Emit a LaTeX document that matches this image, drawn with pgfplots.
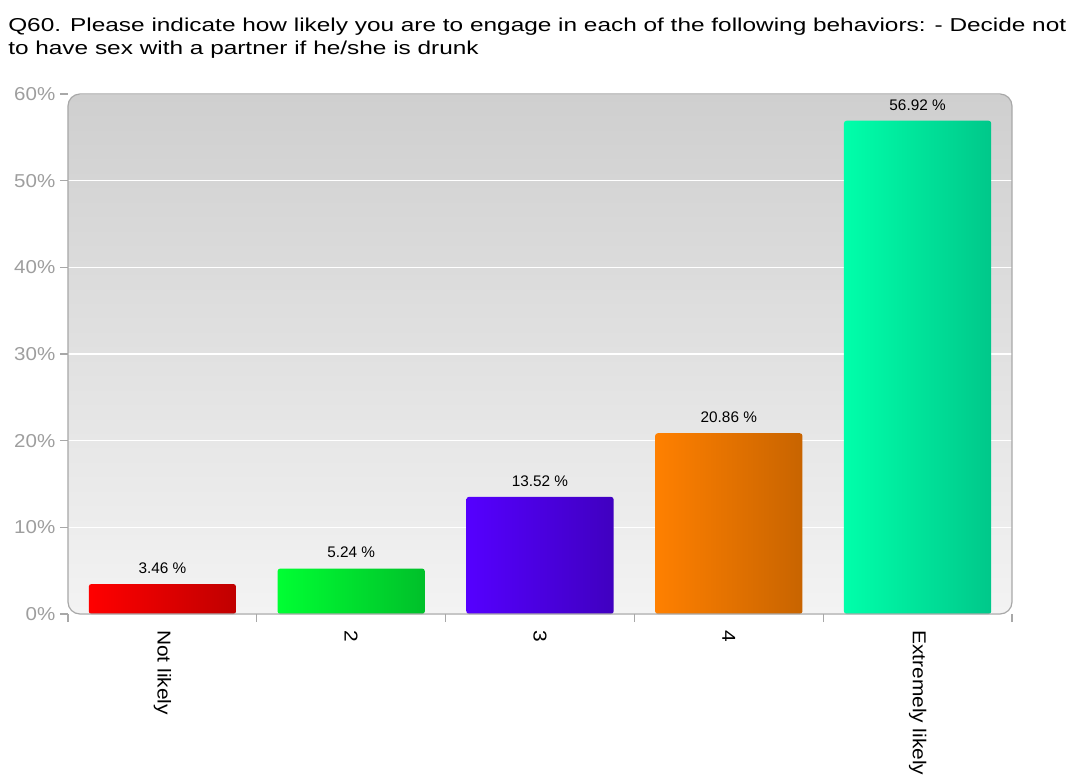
\documentclass[border=0pt]{standalone}
\usepackage{fontspec}
\setmainfont{Liberation Sans}
\usepackage{graphicx}
\usepackage{pgfplots}
\pgfplotsset{compat=1.18}
\definecolor{redL}{HTML}{FF0000}\definecolor{redR}{HTML}{C00000}
\definecolor{grnL}{HTML}{00FF33}\definecolor{grnR}{HTML}{00C02A}
\definecolor{purL}{HTML}{5500FF}\definecolor{purR}{HTML}{4000C0}
\definecolor{orgL}{HTML}{FF8000}\definecolor{orgR}{HTML}{C86400}
\definecolor{tealL}{HTML}{00FFAA}\definecolor{tealR}{HTML}{00C88A}
\definecolor{bgTop}{HTML}{CFCFCF}\definecolor{bgBot}{HTML}{F3F3F3}
\definecolor{frame}{HTML}{A8A8A8}\definecolor{ticklab}{HTML}{9E9E9E}
\newcommand{\wx}[1]{\scalebox{1.12}[1]{#1}}
\newcommand{\wy}[1]{\scalebox{1.1}[1]{#1}}
\begin{document}
\begin{tikzpicture}
\begin{axis}[
  name=ax, at={(0,0)}, anchor=south west,
  scale only axis, width=708pt, height=390pt,
  xmin=0.5, xmax=5.5, ymin=0, ymax=60,
  axis background/.style={top color=bgTop, bottom color=bgBot, draw=none, rounded corners=9pt},
  axis line style={draw=none},
  ymajorgrids, grid style={white, line width=1.1pt},
  ytick={0,10,...,60},
  yticklabels={\wy{0\%},\wy{10\%},\wy{20\%},\wy{30\%},\wy{40\%},\wy{50\%},\wy{60\%}},
  yticklabel style={font=\fontsize{14}{16}\selectfont, text=ticklab},
  xtick={0.5,1.5,...,5.5}, xticklabels={},
  xtick pos=bottom, ytick pos=left,
  tick align=outside, major tick length=6pt,
  tick style={frame, line width=0.8pt},
  extra x ticks={1,2,3,4,5},
  extra x tick labels={\wx{Not likely},\wx{2},\wx{3},\wx{4},\wx{Extremely likely}},
  extra x tick style={major tick length=0pt, xmajorgrids=false,
     tick label style={rotate=-90, anchor=west, inner sep=0pt, font=\fontsize{14}{16}\selectfont}},
  xticklabel shift=12pt,
  ybar, bar width=0.78, bar shift=0pt,
  nodes near coords={\pgfmathprintnumber[fixed,fixed zerofill,precision=2,assume math mode=true]{\pgfplotspointmeta} \%},
  nodes near coords style={font=\fontsize{11.5}{13}\selectfont, text=black, anchor=base, yshift=8pt},
  after end axis/.code={\draw[frame, line width=0.9pt, rounded corners=9pt] (rel axis cs:0,0) rectangle (rel axis cs:1,1);},
]
\addplot[draw=none, left color=redL, right color=redR, rounded corners=2pt] coordinates {(1,3.46)};
\addplot[draw=none, left color=grnL, right color=grnR, rounded corners=2pt] coordinates {(2,5.24)};
\addplot[draw=none, left color=purL, right color=purR, rounded corners=2pt] coordinates {(3,13.52)};
\addplot[draw=none, left color=orgL, right color=orgR, rounded corners=2pt] coordinates {(4,20.86)};
\addplot[draw=none, left color=tealL, right color=tealR, rounded corners=2pt] coordinates {(5,56.92)};
\end{axis}
% picture frame: axis box SW corner is at (68px, 614px) of a 1075x783 px image (1px = 0.75pt)
\node[anchor=base west, inner sep=0pt] at ([shift={(-45pt,436.5pt)}]ax.south west) {\resizebox{793.5pt}{\height}{\fontsize{14}{17}\selectfont\begin{tabular}[t]{@{}l@{}}Q60. Please indicate how likely you are to engage in each of the following behaviors: - Decide not\\to have sex with a partner if he/she is drunk\end{tabular}}};
\pgfresetboundingbox
\path[use as bounding box] ([shift={(-51pt,-126.75pt)}]ax.south west) rectangle ++(806.25pt,587.25pt);
\end{tikzpicture}
\end{document}
